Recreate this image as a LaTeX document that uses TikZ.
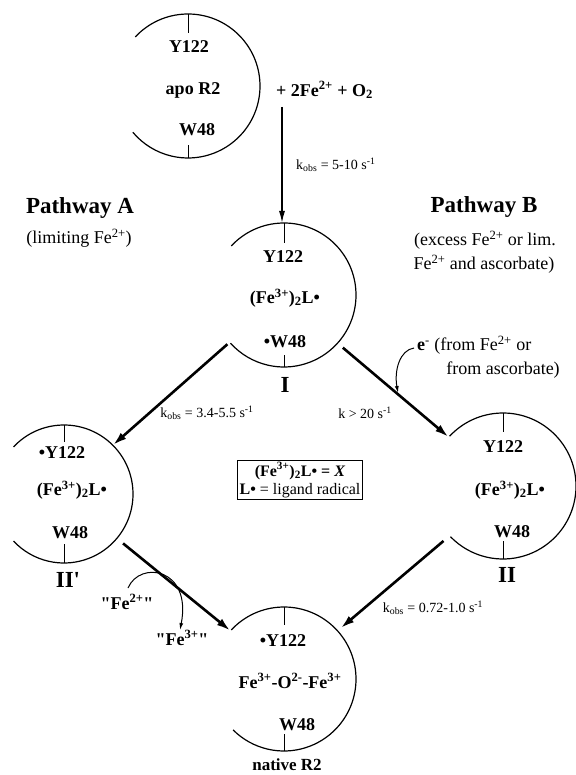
\documentclass[tikz,border=0pt]{standalone}
\usepackage{fontspec}
\setmainfont{Liberation Serif}
\usetikzlibrary{arrows.meta}
\begin{document}
\begin{tikzpicture}[x=1pt,y=1pt,
  circ/.style={circle,minimum size=144pt,inner sep=0pt,outer sep=0pt},
  lbl/.style={font=\fontsize{18}{20}\selectfont\bfseries,inner sep=0pt},
  rom/.style={font=\fontsize{23}{25}\selectfont\bfseries,inner sep=0pt},
  head/.style={font=\fontsize{23}{25}\selectfont\bfseries,inner sep=0pt},
  note/.style={font=\fontsize{18}{20}\selectfont,inner sep=0pt},
  kl/.style={font=\fontsize{14}{16}\selectfont,inner sep=0pt},
  ring/.style={line width=1.2pt},
  tickln/.style={line width=0.9pt},
  rxn/.style={line width=2.6pt,-{Latex[length=14pt,width=8pt]}},
  feed/.style={line width=1.4pt,-{Latex[length=12pt,width=6pt]}},
  curl/.style={line width=1pt,-{Latex[length=7pt,width=4pt]}}
]
\useasboundingbox (0,0) rectangle (575,-775);

% circles (invisible nodes) and their open arcs
\node[circ] (A) at (188,-86) {};
\node[circ] (I) at (284,-295) {};
\node[circ,minimum size=138pt] (IIp) at (64,-494) {};
\node[circ,minimum size=146pt] (II) at (503,-486) {};
\node[circ] (N) at (284,-679) {};

\draw[ring] (A.137) arc[start angle=137,end angle=-140,radius=72pt];
\draw[ring] (I.137) arc[start angle=137,end angle=-138,radius=72pt];
\draw[ring] (IIp.137) arc[start angle=137,end angle=-137,radius=69pt];
\draw[ring] (II.137) arc[start angle=137,end angle=-136,radius=73pt];
\draw[ring] (N.137) arc[start angle=137,end angle=-135,radius=72pt];

% ticks
\draw[tickln] (A.north) -- ++(0,-19);
\draw[tickln] (A.south) -- ++(0,13);
\draw[tickln] (I.north) -- ++(0,-20);
\draw[tickln] (I.south) -- ++(0,12);
\draw[tickln] (IIp.north) -- ++(0,-17);
\draw[tickln] (IIp.south) -- ++(0,19);
\draw[tickln] (II.north) -- ++(0,-19);
\draw[tickln] (II.south) -- ++(0,18);
\draw[tickln] (N.north) -- ++(0,-18);
\draw[tickln] (N.south) -- ++(0,17);

% apo R2
\node[lbl] (A1) at (189,-47) {Y122};
\node[lbl] (A2) at (193,-90) {apo R2};
\node[lbl] (A3) at (197,-130) {W48};
\node[lbl,anchor=west] (plus) at (276,-90) {+ 2Fe\textsuperscript{2+} + O\textsubscript{2}};

% I
\node[lbl] (I1) at (283,-257) {Y122};
\node[lbl] (I2) at (285,-298) {(Fe\textsuperscript{3+})\textsubscript{2}L•};
\node[lbl] (I3) at (285,-342) {•W48};
\node[rom] (Ilab) at (285,-385) {I};

% II'
\node[lbl] (P1) at (62,-453) {•Y122};
\node[lbl] (P2) at (72,-490) {(Fe\textsuperscript{3+})\textsubscript{2}L•};
\node[lbl] (P3) at (70,-533) {W48};
\node[rom] (Plab) at (68,-580) {II\textquotesingle};

% II
\node[lbl] (B1) at (503,-447) {Y122};
\node[lbl] (B2) at (510,-490) {(Fe\textsuperscript{3+})\textsubscript{2}L•};
\node[lbl] (B3) at (512,-532) {W48};
\node[rom] (Blab) at (507,-575) {II};

% native R2
\node[lbl] (N1) at (283,-641) {•Y122};
\node[lbl] (N2) at (290,-681) {Fe\textsuperscript{3+}-O\textsuperscript{2-}-Fe\textsuperscript{3+}};
\node[lbl] (N3) at (297,-725) {W48};
\node[lbl,font=\fontsize{17}{19}\selectfont\bfseries] (Nlab) at (287,-765) {native R2};

% pathway headings
\node[head] (PA) at (80,-208) {Pathway A};
\node[note] (PAs) at (79,-238) {(limiting Fe\textsuperscript{2+})};
\node[head] (PB) at (484,-207) {Pathway B};
\node[note] (PBs1) at (485,-240) {(excess Fe\textsuperscript{2+} or lim.};
\node[note] (PBs2) at (484,-264) {Fe\textsuperscript{2+} and ascorbate)};

% electron source
\node[note,anchor=west] (E1) at (417,-345) {\textbf{e}\textsuperscript{-} (from Fe\textsuperscript{2+} or};
\node[note] (E2) at (503,-370) {from ascorbate)};

% legend box
\node[draw,line width=0.8pt,inner sep=2pt,align=center,font=\fontsize{16}{18}\selectfont] (box) at (300,-480)
  {{\bfseries (Fe\textsuperscript{3+})\textsubscript{2}L• = \textit{X}}\\ \textbf{L•} = ligand radical};

% rate labels
\node[kl,anchor=west] (k1) at (296,-165) {k\textsubscript{obs} = 5-10 s\textsuperscript{-1}};
\node[kl] (k2) at (207,-413) {k\textsubscript{obs} = 3.4-5.5 s\textsuperscript{-1}};
\node[kl] (k3) at (365,-413) {k > 20 s\textsuperscript{-1}};
\node[kl] (k4) at (433,-608) {k\textsubscript{obs} = 0.72-1.0 s\textsuperscript{-1}};

% reaction arrows
\coordinate (s1) at (282,-107);
\draw[feed] (s1) -- (s1 |- I.north);
\draw[rxn,shorten <=3pt] (I.221) -- (IIp.45);
\draw[rxn,shorten <=7pt] (I.-42) -- (II.138);
\draw[rxn,shorten <=8pt] (IIp.-40) -- (N.138);
\draw[rxn,shorten <=8pt,shorten >=4pt] (II.223) -- (N.42);

% curved side arrows
\coordinate (e0) at (414,-348);
\coordinate (e1) at (398,-393);
\draw[curl] (e0) .. controls (400,-350) and (394,-370) .. (e1);
\node[lbl] (fe2) at (127,-602) {\textquotedbl Fe\textsuperscript{2+}\textquotedbl};
\node[lbl] (fe3) at (182,-638) {\textquotedbl Fe\textsuperscript{3+}\textquotedbl};
\coordinate (f0) at (128,-588);
\coordinate (f1) at (180,-630);
\draw[curl] (f0) .. controls (140,-560) and (192,-568) .. (f1);
\end{tikzpicture}
\end{document}
